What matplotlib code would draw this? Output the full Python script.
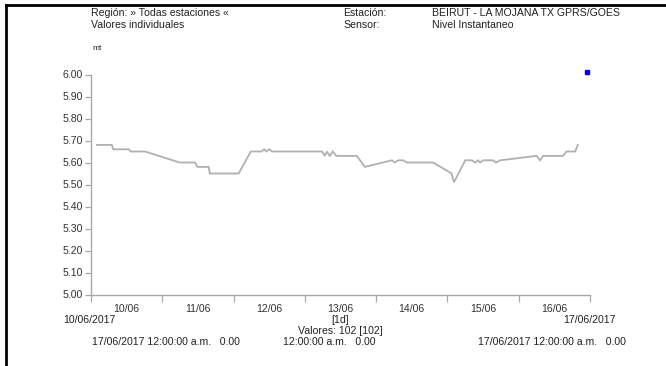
import matplotlib
matplotlib.use("Agg")
import matplotlib.pyplot as plt
from matplotlib.lines import Line2D
from matplotlib import font_manager
import datetime as dt

# ---- data ----
start = dt.datetime(2017, 6, 10)
hours = [2, 7, 7.5, 12.7, 13.4, 18.2, 29.8, 35, 35.8, 39.6, 40, 49.7, 53.8, 57.4,
         58.3, 59, 60, 61, 77.8, 78.7, 79.4, 80.4, 81.4, 82.6, 89.5, 92.2, 101.3,
         102.2, 103.4, 105.1, 106.3, 115.2, 121.4, 122.2, 126, 128.2, 129.4, 130.3,
         131, 132, 135.4, 136.3, 137.8, 150, 151.2, 152.2, 158.9, 160.1, 163, 163.9]
level = [5.68, 5.68, 5.66, 5.66, 5.65, 5.65, 5.60, 5.60, 5.58, 5.58, 5.55, 5.55, 5.65, 5.65,
         5.66, 5.65, 5.66, 5.65, 5.65, 5.63, 5.65, 5.63, 5.65, 5.63, 5.63, 5.58, 5.61,
         5.60, 5.61, 5.61, 5.60, 5.60, 5.55, 5.51, 5.61, 5.61, 5.60, 5.61,
         5.60, 5.61, 5.61, 5.60, 5.61, 5.63, 5.61, 5.63, 5.63, 5.65, 5.65, 5.68]
marker_hour = [167]
marker_level = [6.01]
day_labels = ["10/06", "11/06", "12/06", "13/06", "14/06", "15/06", "16/06"]
y_ticks = [5.00, 5.10, 5.20, 5.30, 5.40, 5.50, 5.60, 5.70, 5.80, 5.90, 6.00]

# ---- fonts ----
avail = {f.name for f in font_manager.fontManager.ttflist}
fam = [f for f in ["Liberation Sans Narrow", "Liberation Sans", "DejaVu Sans"] if f in avail]
plt.rcParams['font.family'] = fam

W, H = 666, 366
fig = plt.figure(figsize=(W / 100, H / 100), dpi=100)

def fx(px):
    return px / W

def fy(py):
    return 1 - py / H

x0, x1 = 91, 590
ytop, ybot = 74.5, 294.5
ax = fig.add_axes([fx(x0), fy(ybot), fx(x1) - fx(x0), fy(ytop) - fy(ybot)])

times = [start + dt.timedelta(hours=h) for h in hours]
ax.plot(times, level, color="#b0b0b0", lw=1.3, solid_joinstyle="miter")
mt = [start + dt.timedelta(hours=h) for h in marker_hour]
ax.plot(mt, marker_level, ls="none", marker="s", ms=2.6, color="#0000ff",
        mec="#0000ff", clip_on=False)

ax.set_xlim(start, start + dt.timedelta(days=7))
ax.set_ylim(5.0, 6.0)

for s in ["top", "right"]:
    ax.spines[s].set_visible(False)
for s in ["left", "bottom"]:
    ax.spines[s].set_color("#a8a8a8")
    ax.spines[s].set_linewidth(1.0)

ax.set_yticks(y_ticks)
ax.set_yticklabels([f"{v:.2f}" for v in y_ticks])
ax.tick_params(axis="y", length=4, width=0.9, color="#a8a8a8", labelsize=7.6,
               labelcolor="#333333", pad=2)

major = [start + dt.timedelta(days=i) for i in range(8)]
minor = [start + dt.timedelta(days=i, hours=12) for i in range(7)]
ax.set_xticks(major)
ax.set_xticklabels([""] * len(major))
ax.set_xticks(minor, minor=True)
ax.set_xticklabels(day_labels, minor=True)
ax.tick_params(axis="x", which="major", length=5, width=0.9, color="#a8a8a8", direction="out")
ax.tick_params(axis="x", which="minor", length=0, labelsize=7.6, labelcolor="#333333", pad=7)
ax.set_facecolor("none")

tc = "#222222"
fs = 7.6
fig.text(fx(91), fy(13), "Región: » Todas estaciones «", fontsize=fs, color=tc, va="center")
fig.text(fx(91), fy(25), "Valores individuales", fontsize=fs, color=tc, va="center")
fig.text(fx(343), fy(13), "Estación:", fontsize=fs, color=tc, va="center")
fig.text(fx(343), fy(25), "Sensor:", fontsize=fs, color=tc, va="center")
fig.text(fx(432), fy(13), "BEIRUT - LA MOJANA TX GPRS/GOES", fontsize=fs, color=tc, va="center")
fig.text(fx(432), fy(25), "Nivel Instantaneo", fontsize=fs, color=tc, va="center")
fig.text(fx(92), fy(48), "mt", fontsize=6, color=tc, va="center")

fig.text(fx(89), fy(320), "10/06/2017", fontsize=fs, color=tc, va="center", ha="center")
fig.text(fx(589), fy(320), "17/06/2017", fontsize=fs, color=tc, va="center", ha="center")
fig.text(fx(340), fy(320), "[1d]", fontsize=fs, color=tc, va="center", ha="center")
fig.text(fx(340), fy(331), "Valores: 102 [102]", fontsize=fs, color=tc, va="center", ha="center")
fig.text(fx(92), fy(342), "17/06/2017 12:00:00 a.m.   0.00", fontsize=fs, color=tc, va="center")
fig.text(fx(283), fy(342), "12:00:00 a.m.   0.00", fontsize=fs, color=tc, va="center")
fig.text(fx(478), fy(342), "17/06/2017 12:00:00 a.m.   0.00", fontsize=fs, color=tc, va="center")

# frame border (top and left)
fig.add_artist(Line2D([fx(6), 1.0], [fy(5), fy(5)], color="black", lw=2.0))
fig.add_artist(Line2D([fx(6), fx(6)], [fy(5), 0.0], color="black", lw=2.0))

fig.savefig("out.png", dpi=100)
